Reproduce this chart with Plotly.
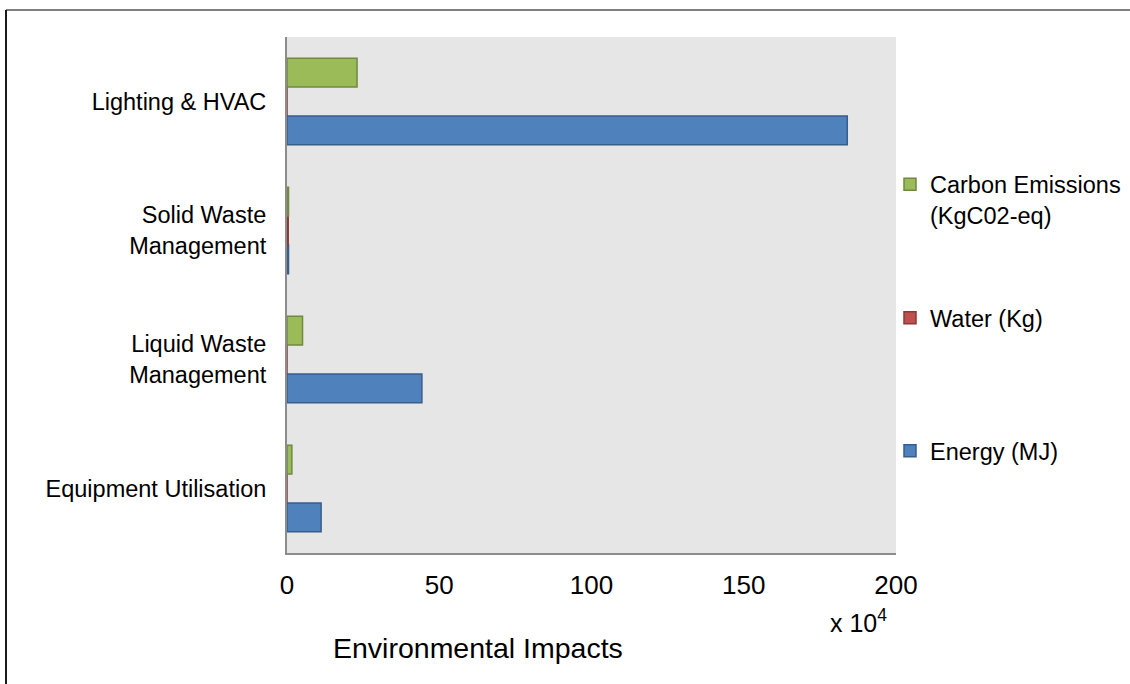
import plotly.graph_objects as go

# Categories (bottom to top on the y axis)
categories = [
    "Equipment Utilisation",
    "Liquid Waste<br>Management",
    "Solid Waste<br>Management",
    "Lighting & HVAC",
]

# Values in units of 10^4
energy_mj = [11.2, 44.3, 0.5, 184.0]
water_kg = [0.0, 0.0, 0.4, 0.0]
carbon_kgco2 = [1.6, 5.1, 0.5, 23.0]

x_ticks = [0, 50, 100, 150, 200]

FONT = "Liberation Sans, Arial, sans-serif"
W, H = 1130, 684
L, R, T, B = 287, 896, 37, 553  # plot area in pixels


def px_x(p):
    return (p - L) / (R - L)


def px_y(p):
    return (B - p) / (B - T)


fig = go.Figure()

series = [
    ("Energy (MJ)", energy_mj, "#4f81bd", "#385d8a", "legend3"),
    ("Water (Kg)", water_kg, "#c0504d", "#8c3836", "legend2"),
    ("Carbon Emissions<br>(KgC02-eq)", carbon_kgco2, "#9bbb59", "#71893f", "legend"),
]
for name, vals, fill, edge, lg in series:
    fig.add_trace(go.Bar(
        y=categories, x=vals, name=name, orientation="h",
        marker=dict(color=fill, line=dict(color=edge, width=1.5)),
        legend=lg,
    ))

legend_common = dict(
    xref="container", yref="container", x=890 / W, xanchor="left",
    yanchor="middle", bgcolor="rgba(0,0,0,0)", valign="top",
    font=dict(family=FONT, size=23.5, color="#000000"),
    itemwidth=30, tracegroupgap=0,
)
fig.update_layout(
    legend=dict(y=1 - 200 / H, **legend_common),
    legend2=dict(y=1 - 318 / H, **legend_common),
    legend3=dict(y=1 - 451 / H, **legend_common),
)

fig.update_layout(
    width=W, height=H,
    margin=dict(l=L, r=W - R, t=T, b=H - B, autoexpand=False),
    paper_bgcolor="#ffffff",
    plot_bgcolor="#e6e6e6",
    barmode="group",
    bargap=0.33,
    bargroupgap=0.0,
    showlegend=True,
    font=dict(family=FONT, color="#000000"),
    xaxis=dict(
        range=[0, 200], tickvals=x_ticks, ticktext=[str(v) for v in x_ticks],
        showgrid=False, zeroline=False, showline=True, linecolor="#8c8c8c",
        linewidth=2, ticks="", tickfont=dict(size=26, color="#000000"),
        ticklabelstandoff=8, automargin=False,
    ),
    yaxis=dict(
        range=[-0.5, 3.5], showgrid=False, zeroline=False, showline=True,
        linecolor="#8c8c8c", linewidth=2, ticks="",
        tickfont=dict(size=23.5, color="#000000"), ticklabelstandoff=14,
        automargin=False,
    ),
    annotations=[
        dict(text="Environmental Impacts", xref="paper", yref="paper",
             x=px_x(478), y=px_y(648), showarrow=False, xanchor="center",
             yanchor="middle", font=dict(size=28.5, family=FONT, color="#000000")),
        dict(text="x 10<sup>4</sup>", xref="paper", yref="paper",
             x=px_x(858), y=px_y(621), showarrow=False, xanchor="center",
             yanchor="middle", font=dict(size=25, family=FONT, color="#000000")),
    ],
    shapes=[
        dict(type="line", xref="paper", yref="paper", x0=px_x(6), x1=px_x(1140),
             y0=px_y(10), y1=px_y(10), line=dict(color="#7f7f7f", width=2)),
        dict(type="line", xref="paper", yref="paper", x0=px_x(6), x1=px_x(6),
             y0=px_y(10), y1=px_y(700), line=dict(color="#1a1a1a", width=2)),
    ],
)

fig.write_html("out.html")
